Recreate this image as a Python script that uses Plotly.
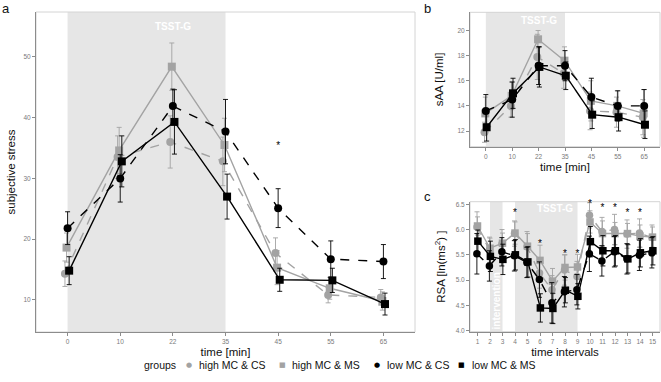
import plotly.graph_objects as go

# ---------------- data ----------------
groups = ["high MC & CS", "high MC & MS", "low MC & CS", "low MC & MS"]
times = ["0", "10", "22", "35", "45", "55", "65"]
intervals = list(range(1, 16))

# panel a: subjective stress (means and SE)
stress_high_cs = [14.3, 33.5, 36.0, 32.8, 17.7, 10.8, 10.4]
stress_high_ms = [18.6, 34.6, 48.4, 35.5, 15.3, 11.9, 9.8]
stress_low_cs = [21.8, 30.0, 41.9, 37.7, 25.1, 16.7, 16.3]
stress_low_ms = [14.8, 32.8, 39.3, 27.0, 13.3, 13.2, 9.3]
stress_se_high_cs = [2.1, 3.5, 4.3, 4.0, 2.5, 1.3, 1.3]
stress_se_high_ms = [2.4, 3.8, 3.9, 4.4, 2.8, 1.8, 1.5]
stress_se_low_cs = [2.7, 3.9, 2.8, 5.3, 3.2, 3.0, 2.8]
stress_se_low_ms = [2.3, 4.2, 5.3, 3.7, 1.9, 2.0, 1.8]

# panel b: sAA
saa_high_cs = [11.9, 14.0, 17.9, 16.6, 13.6, 13.5, 13.1]
saa_high_ms = [13.4, 14.8, 19.3, 17.6, 14.4, 14.0, 13.4]
saa_low_cs = [13.6, 14.5, 17.2, 17.2, 14.7, 14.0, 14.0]
saa_low_ms = [12.3, 15.0, 17.1, 16.4, 13.3, 13.1, 12.5]
saa_se_high_cs = [0.8, 0.9, 1.8, 1.2, 1.5, 1.2, 1.4]
saa_se_high_ms = [1.3, 1.1, 0.7, 1.1, 1.6, 1.2, 1.9]
saa_se_low_cs = [1.3, 1.4, 1.5, 1.2, 1.5, 1.2, 1.3]
saa_se_low_ms = [1.1, 1.2, 1.6, 1.1, 1.1, 1.1, 1.1]

# panel c: RSA
rsa_high_cs = [6.05, 5.60, 5.72, 5.92, 5.66, 5.14, 4.81, 5.20, 5.07, 6.28, 5.96, 6.00, 5.91, 5.93, 5.84]
rsa_high_ms = [6.07, 5.63, 5.73, 5.93, 5.67, 5.39, 4.98, 5.25, 5.26, 6.15, 5.92, 5.92, 5.92, 5.87, 5.85]
rsa_low_cs = [5.52, 5.28, 5.56, 5.48, 5.35, 5.01, 4.55, 4.77, 4.81, 5.52, 5.38, 5.56, 5.42, 5.49, 5.54]
rsa_low_ms = [5.77, 5.47, 5.41, 5.50, 5.36, 4.45, 4.44, 4.80, 4.68, 5.76, 5.58, 5.58, 5.42, 5.54, 5.58]
rsa_se_high_cs = [0.30, 0.25, 0.28, 0.25, 0.30, 0.30, 0.28, 0.30, 0.30, 0.25, 0.28, 0.30, 0.28, 0.28, 0.25]
rsa_se_high_ms = [0.18, 0.20, 0.20, 0.22, 0.25, 0.30, 0.25, 0.25, 0.25, 0.22, 0.25, 0.22, 0.20, 0.22, 0.20]
rsa_se_low_cs = [0.40, 0.30, 0.28, 0.30, 0.30, 0.35, 0.40, 0.30, 0.30, 0.35, 0.30, 0.30, 0.30, 0.30, 0.30]
rsa_se_low_ms = [0.22, 0.30, 0.30, 0.30, 0.30, 0.28, 0.30, 0.25, 0.25, 0.30, 0.30, 0.30, 0.28, 0.28, 0.28]

# significance stars
star_a_x = [4]
star_a_y = [35.2]
star_c_x = [4, 6, 8, 9, 10, 11, 12, 13, 14]
star_c_y = [6.31, 5.71, 5.51, 5.51, 6.49, 6.41, 6.41, 6.31, 6.31]

# ---------------- style ----------------
GREY = "#A3A3A3"
BLACK = "#000000"
SHADE = "#E6E6E6"
FONT = "Liberation Sans, Arial, sans-serif"
TICKC = "#7A7A7A"
style = {
    "high MC & CS": dict(color=GREY, symbol="circle", dash="dash", glyph="●"),
    "high MC & MS": dict(color=GREY, symbol="square", dash="solid", glyph="■"),
    "low MC & CS": dict(color=BLACK, symbol="circle", dash="dash", glyph="●"),
    "low MC & MS": dict(color=BLACK, symbol="square", dash="solid", glyph="■"),
}
dodge_a = {"high MC & CS": -0.05, "high MC & MS": -0.02, "low MC & CS": 0.0, "low MC & MS": 0.03}
dodge_c = {"high MC & CS": -0.04, "high MC & MS": 0.0, "low MC & CS": -0.05, "low MC & MS": 0.03}

panel_a = dict(zip(groups, [stress_high_cs, stress_high_ms, stress_low_cs, stress_low_ms]))
panel_a_se = dict(zip(groups, [stress_se_high_cs, stress_se_high_ms, stress_se_low_cs, stress_se_low_ms]))
panel_b = dict(zip(groups, [saa_high_cs, saa_high_ms, saa_low_cs, saa_low_ms]))
panel_b_se = dict(zip(groups, [saa_se_high_cs, saa_se_high_ms, saa_se_low_cs, saa_se_low_ms]))
panel_c = dict(zip(groups, [rsa_high_cs, rsa_high_ms, rsa_low_cs, rsa_low_ms]))
panel_c_se = dict(zip(groups, [rsa_se_high_cs, rsa_se_high_ms, rsa_se_low_cs, rsa_se_low_ms]))

fig = go.Figure()


def add_series(xbase, vals, ses, xa, ya, dodge, msize):
    for g in groups:
        s = style[g]
        fig.add_trace(go.Scatter(
            x=[v + dodge[g] for v in xbase], y=vals[g], name=g,
            mode="lines+markers", xaxis=xa, yaxis=ya, showlegend=False,
            line=dict(color=s["color"], dash=s["dash"], width=1.4),
            marker=dict(color=s["color"], symbol=s["symbol"], size=msize),
            error_y=dict(type="data", array=ses[g], color=s["color"], thickness=0.9, width=2.5),
            cliponaxis=False,
        ))


idx = list(range(len(times)))
add_series(idx, panel_a, panel_a_se, "x", "y", dodge_a, 8)
add_series(idx, panel_b, panel_b_se, "x2", "y2", dodge_a, 8)
add_series(intervals, panel_c, panel_c_se, "x3", "y3", dodge_c, 7.5)

# stars
fig.add_trace(go.Scatter(x=star_a_x, y=star_a_y, mode="text", text=["*"] * len(star_a_x),
                         textfont=dict(size=10, color=BLACK, family=FONT), xaxis="x", yaxis="y",
                         showlegend=False))
fig.add_trace(go.Scatter(x=star_c_x, y=star_c_y, mode="text", text=["*"] * len(star_c_x),
                         textfont=dict(size=10, color=BLACK, family=FONT), xaxis="x3", yaxis="y3",
                         showlegend=False, cliponaxis=False))

W, H = 661, 382


def px(x):
    return x / W


def py(y):
    return 1 - y / H


axis_common = dict(showgrid=False, zeroline=False, showline=True, linecolor="#8C8C8C", linewidth=1,
                   ticks="outside", ticklen=3, tickcolor="#8C8C8C", automargin=False,
                   tickfont=dict(size=6.5, color=TICKC, family=FONT))
title_font = dict(size=11.5, color="#111111", family=FONT)

fig.update_layout(
    width=W, height=H, margin=dict(l=0, r=0, t=0, b=0, autoexpand=False),
    paper_bgcolor="white", plot_bgcolor="white",
    font=dict(family=FONT), showlegend=False,
    xaxis=dict(domain=[px(36), px(415)], range=[-0.6, 6.6], tickvals=idx, ticktext=times,
               title=dict(text="time [min]", font=title_font, standoff=4), anchor="y", **axis_common),
    yaxis=dict(domain=[py(332), py(12)], range=[4.7, 57.4], tickvals=[10, 20, 30, 40, 50],
               title=dict(text="subjective stress", font=title_font, standoff=5), anchor="x", **axis_common),
    xaxis2=dict(domain=[px(470), px(660)], range=[-0.6, 6.6], tickvals=idx, ticktext=times,
                title=dict(text="time [min]", font=title_font, standoff=4), anchor="y2", **axis_common),
    yaxis2=dict(domain=[py(146.7), py(12.3)], range=[10.75, 21.45], tickvals=[12, 14, 16, 18, 20],
                title=dict(text="sAA [U/ml]", font=title_font, standoff=11), anchor="x2", **axis_common),
    xaxis3=dict(domain=[px(470), px(660)], range=[0.4, 15.6], tickvals=intervals,
                title=dict(text="time intervals", font=title_font, standoff=4), anchor="y3", **axis_common),
    yaxis3=dict(domain=[py(331.7), py(201.7)], range=[3.98, 6.55], tickvals=[4.0, 4.5, 5.0, 5.5, 6.0, 6.5],
                tickformat=".1f",
                title=dict(text="RSA [ln(ms<sup>2</sup>) ]", font=title_font, standoff=7), anchor="x3",
                **axis_common),
)

shapes = []
# shaded task periods
shapes.append(dict(type="rect", xref="x", yref="y domain", x0=0, x1=3, y0=0, y1=1,
                   fillcolor=SHADE, line=dict(width=0), layer="below"))
shapes.append(dict(type="rect", xref="x2", yref="y2 domain", x0=0, x1=3, y0=0, y1=1,
                   fillcolor=SHADE, line=dict(width=0), layer="below"))
shapes.append(dict(type="rect", xref="x3", yref="y3 domain", x0=2, x1=3, y0=0, y1=1,
                   fillcolor=SHADE, line=dict(width=0), layer="below"))
shapes.append(dict(type="rect", xref="x3", yref="y3 domain", x0=4, x1=9, y0=0, y1=1,
                   fillcolor=SHADE, line=dict(width=0), layer="below"))
# light panel frames
for xr, yr in [("x", "y"), ("x2", "y2"), ("x3", "y3")]:
    shapes.append(dict(type="rect", xref=f"{xr} domain", yref=f"{yr} domain", x0=0, x1=1, y0=0, y1=1,
                       line=dict(color="#D4D4D4", width=1), fillcolor="rgba(0,0,0,0)", layer="below"))
fig.update_layout(shapes=shapes)

ann = []
white_bold = dict(size=10, color="white", family=FONT)
ann.append(dict(text="<b>TSST-G</b>", x=2, y=0.955, xref="x", yref="y domain", showarrow=False,
                font=white_bold, yanchor="middle"))
ann.append(dict(text="<b>TSST-G</b>", x=2, y=0.94, xref="x2", yref="y2 domain", showarrow=False,
                font=white_bold, yanchor="middle"))
ann.append(dict(text="<b>TSST-G</b>", x=7.2, y=0.95, xref="x3", yref="y3 domain", showarrow=False,
                font=white_bold, yanchor="middle"))
ann.append(dict(text="<b>intervention</b>", x=2.5, y=0.0, xref="x3", yref="y3 domain", showarrow=False,
                font=dict(size=10, color="white", family=FONT), textangle=-90, yanchor="bottom",
                xanchor="center"))
for lab, x, y in [("a", 6, 8), ("b", 427, 8), ("c", 427, 197)]:
    ann.append(dict(text=lab, x=px(x), y=py(y), xref="paper", yref="paper", showarrow=False,
                    font=dict(size=13, color="#111111", family=FONT), xanchor="center", yanchor="middle"))

# legend row: "groups" + key glyphs + labels
leg_y = py(365)
leg_font = dict(size=10.5, color="#111111", family=FONT)
ann.append(dict(text="groups", x=px(142), y=leg_y, xref="paper", yref="paper", showarrow=False,
                font=leg_font, xanchor="left", yanchor="middle"))
leg_key_x = [189, 282, 377, 462]
for g, kx in zip(groups, leg_key_x):
    s = style[g]
    ann.append(dict(text=s["glyph"], x=px(kx), y=leg_y, xref="paper", yref="paper", showarrow=False,
                    font=dict(size=7, color=s["color"], family="DejaVu Sans"), xanchor="center",
                    yanchor="middle"))
    ann.append(dict(text=g, x=px(kx + 8), y=leg_y, xref="paper", yref="paper", showarrow=False,
                    font=leg_font, xanchor="left", yanchor="middle"))
fig.update_layout(annotations=ann)

fig.write_html("out.html", config={"displayModeBar": False},
               post_script="document.body.style.margin='0';document.body.style.overflow='hidden';")
